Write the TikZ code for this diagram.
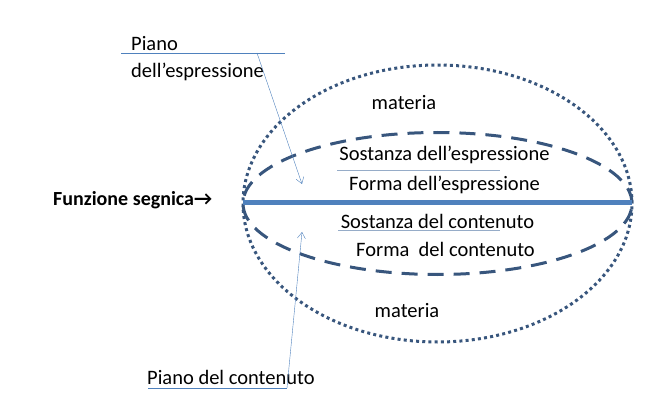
\documentclass[tikz,border=0pt]{standalone}
\usepackage{fontspec}
\setmainfont{Carlito}
\usetikzlibrary{arrows.meta}
\definecolor{lineblue}{RGB}{79,129,189}
\definecolor{darkblue}{RGB}{56,86,125}
\definecolor{paleblue}{RGB}{150,172,200}

\begin{document}
\begin{tikzpicture}[x=1pt, y=-1pt, every node/.style={font=\fontsize{20.5}{24}\selectfont, inner sep=0pt}]
            \useasboundingbox (0,0) rectangle (654,401);
            \draw[darkblue, line width=3pt, dash pattern=on 3pt off 3.2pt] (437.5,203.5) ellipse (194.5pt and 138.5pt);
            \draw[darkblue, line width=3pt, dash pattern=on 16pt off 10pt] (437.5,203.5) ellipse (194.5pt and 71pt);
            \draw[lineblue, line width=5pt] (243,203) -- (632,203);
            \node (materiaA) at (404,103) {materia};
            \node (materiaB) at (407,311) {materia};
            \node (sostE) at (444.5,155) {Sostanza dell’espressione};
            \node (formaE) at (444.5,185) {Forma dell’espressione};
            \node (sostC) at (437.5,221) {Sostanza del contenuto};
            \node (formaC) at (445.5,249) {Forma~ del contenuto};
            \draw[paleblue] (337,170) -- (500,170);
            \draw[paleblue] (338,230) -- (500,230);
            \node[anchor=west, font=\fontsize{20}{24}\selectfont\bfseries] (funzione) at (53,200) {Funzione segnica→};
            \node[anchor=west] (pianoA) at (131,44) {Piano};
            \node[anchor=west] (pianoB) at (131,72) {dell’espressione};
            \node[anchor=west] (pianoC) at (147,377) {Piano del contenuto};
            \coordinate (espr) at (257,53);
            \coordinate (cont) at (287,388);
            \coordinate (sopra) at (302,184);
            \coordinate (sotto) at (302,232);
            \draw[lineblue] (121,53) -- (285,53);
            \draw[lineblue] (148,388) -- (cont);
            \draw[lineblue, -{Straight Barb[length=6pt, width=8pt]}] (espr) -- (sopra);
            \draw[lineblue, -{Straight Barb[length=6pt, width=8pt]}] (cont) -- (sotto);
          \end{tikzpicture}
\end{document}
